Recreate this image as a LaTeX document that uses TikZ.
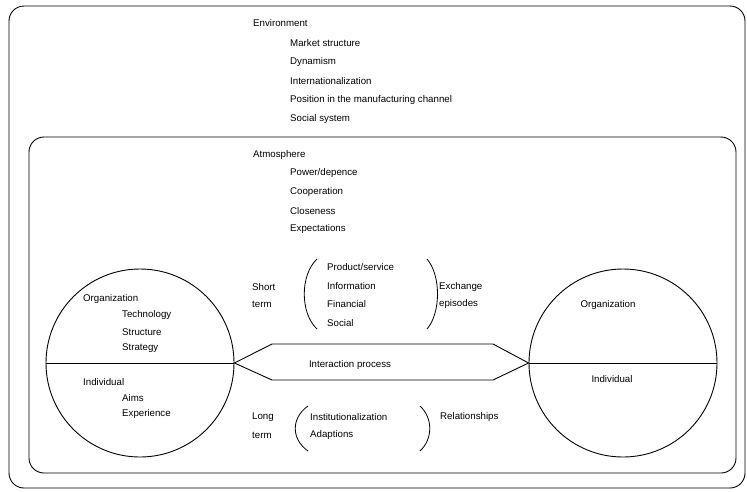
\documentclass[tikz,border=0pt]{standalone}
\usepackage{fontspec}
\setmainfont{Liberation Sans}
\begin{document}
\begin{tikzpicture}[x=1pt,y=-1pt,
  lbl/.style={anchor=west,inner sep=0pt,font=\fontsize{9.7}{11}\selectfont},
  clbl/.style={anchor=center,inner sep=0pt,font=\fontsize{9.7}{11}\selectfont},
  frame/.style={draw,line width=0.9pt,rounded corners=15pt},
  ring/.style={circle,draw,line width=0.9pt,minimum size=188pt,inner sep=0pt},
  ln/.style={line width=0.9pt},
  paren/.style={line width=0.8pt}]
\useasboundingbox (0,0) rectangle (747,491);
% frames
\draw[frame] (9,6) rectangle (745,488);
\draw[frame] (29,137) rectangle (736,473);
% environment
\node[lbl] (env) at (253,23) {Environment};
\node[lbl] (e1) at (290,43) {Market structure};
\node[lbl] (e2) at (290,62) {Dynamism};
\node[lbl] (e3) at (290,81) {Internationalization};
\node[lbl] (e4) at (290,100) {Position in the manufacturing channel};
\node[lbl] (e5) at (290,119) {Social system};
% atmosphere
\node[lbl] (atm) at (253,155) {Atmosphere};
\node[lbl] (a1) at (290,173) {Power/depence};
\node[lbl] (a2) at (290,192) {Cooperation};
\node[lbl] (a3) at (290,211) {Closeness};
\node[lbl] (a4) at (290,229) {Expectations};
% short term
\node[lbl] (st1) at (252,287) {Short};
\node[lbl] (st2) at (252,304) {term};
\node[lbl] (x1) at (327,267) {Product/service};
\node[lbl] (x2) at (327,286) {Information};
\node[lbl] (x3) at (327,304) {Financial};
\node[lbl] (x4) at (327,323) {Social};
\node[lbl] (ex1) at (439,287) {Exchange};
\node[lbl] (ex2) at (439,304) {episodes};
\draw[paren] (317,259) .. controls (300,275) and (300,313) .. (317,329);
\draw[paren] (427,259) .. controls (441,275) and (441,313) .. (427,329);
% long term
\node[lbl] (lt1) at (252,417) {Long};
\node[lbl] (lt2) at (252,435) {term};
\node[lbl] (r1) at (310,417) {Institutionalization};
\node[lbl] (r2) at (310,435) {Adaptions};
\node[lbl] (rel) at (440,417) {Relationships};
\draw[paren] (308,406) .. controls (291,418) and (291,439) .. (308,451);
\draw[paren] (420,406) .. controls (433,418) and (433,439) .. (420,451);
% circles
\node[ring] (lc) at (140,363) {};
\node[ring] (rc) at (623,363) {};
\draw[ln] (lc.west) -- (lc.east);
\draw[ln] (rc.west) -- (rc.east);
% left circle text
\node[lbl] (lo) at (83,299) {Organization};
\node[lbl] (lo1) at (122,315) {Technology};
\node[lbl] (lo2) at (122,332) {Structure};
\node[lbl] (lo3) at (122,348) {Strategy};
\node[lbl] (li) at (83,382) {Individual};
\node[lbl] (li1) at (122,398) {Aims};
\node[lbl] (li2) at (122,414) {Experience};
% right circle text
\node[clbl] (ro) at (608,305) {Organization};
\node[clbl] (ri) at (612,379) {Individual};
% interaction process
\coordinate (h1) at (272,344);
\coordinate (h2) at (493,344);
\coordinate (h3) at (493,380);
\coordinate (h4) at (272,380);
\draw[ln] (lc.east) -- (h1) -- (h2) -- (rc.west) -- (h3) -- (h4) -- cycle;
\node[clbl] (ip) at (350,365) {Interaction process};
\end{tikzpicture}
\end{document}
